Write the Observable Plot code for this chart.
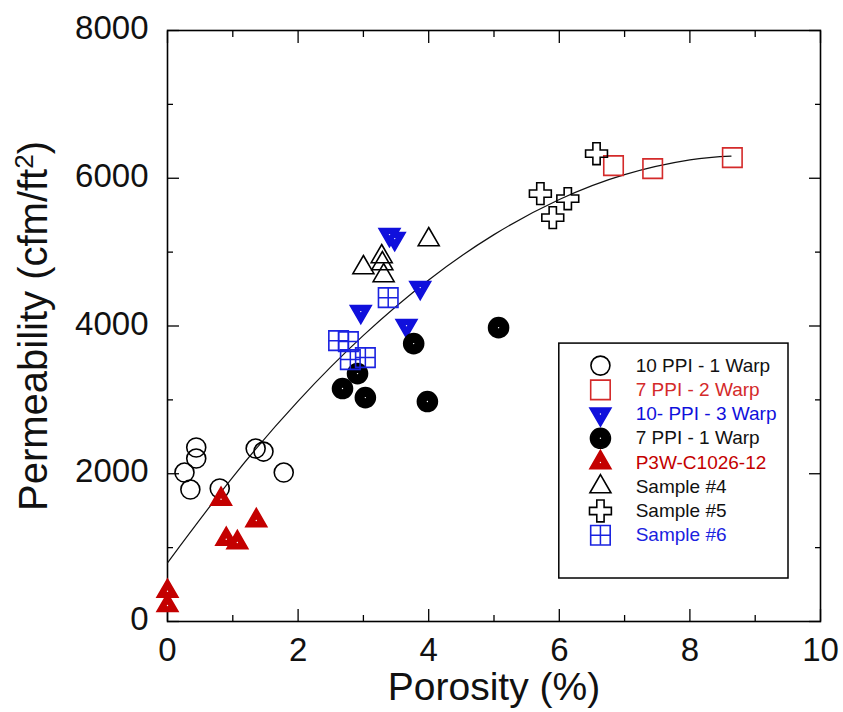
<!DOCTYPE html>
<html>
<head>
<meta charset="utf-8">
<script src="https://cdn.jsdelivr.net/npm/d3@7"></script>
<script src="https://cdn.jsdelivr.net/npm/@observablehq/plot@0.6"></script>
<style>
  html, body { margin: 0; padding: 0; background: #fff; }
  #chart { width: 843px; height: 712px; }
</style>
</head>
<body>
<div id="chart"></div>
<script>
// ---------- Data ----------
const ppi10w1X = [0.26, 0.35, 0.44, 0.44, 0.80, 1.35, 1.47, 1.78];
const ppi10w1Y = [2016, 1786, 2355, 2206, 1800, 2341, 2300, 2016];

const ppi7w2X = [6.83, 7.43, 8.65];
const ppi7w2Y = [6171, 6130, 6279];

const ppi10w3X = [3.40, 3.48, 3.87, 2.96, 3.66];
const ppi10w3Y = [5237, 5183, 4520, 4195, 4005];

const ppi7w1X = [2.91, 2.68, 3.03, 3.98, 3.77, 5.07];
const ppi7w1Y = [3356, 3153, 3031, 2977, 3762, 3978];

const p3wX = [0.82, 0.90, 1.07, 1.36, 0.00, 0.00];
const p3wY = [1655, 1114, 1069, 1367, 410, 217];

const sample4X = [4.00, 3.28, 3.00, 3.29, 3.31];
const sample4Y = [5169, 4939, 4790, 4844, 4682];

const sample5X = [6.57, 5.71, 6.13, 5.90];
const sample5Y = [6333, 5792, 5724, 5467];

const sample6X = [2.62, 2.77, 2.80, 3.03, 3.38];
const sample6Y = [3802, 3789, 3545, 3572, 4384];

// fitted trend curve
const curveX = [0, 1, 2, 3, 4, 5, 6, 7, 8, 8.63];
const curveY = [795, 1956, 2984, 3873, 4624, 5237, 5712, 6049, 6248, 6300];

// axes
const xMajorTicks = [0, 2, 4, 6, 8, 10];
const xMinorTicks = [1, 3, 5, 7, 9];
const yMajorTicks = [0, 2000, 4000, 6000, 8000];
const yMinorTicks = [1000, 3000, 5000, 7000];
const xTickLabels = ["0", "2", "4", "6", "8", "10"];
const yTickLabels = ["0", "2000", "4000", "6000", "8000"];

const legendLabels = ["10 PPI - 1 Warp", "7 PPI - 2 Warp", "10- PPI - 3 Warp", "7 PPI - 1 Warp",
                      "P3W-C1026-12", "Sample #4", "Sample #5", "Sample #6"];

// ---------- Styles ----------
const RED = "#d42a2a", DARKRED = "#c40000", BLUE = "#1010dc", BLUE2 = "#1a22e0";
const triDown = {
  draw(ctx, size) {
    const y = Math.sqrt(size / (3 * Math.sqrt(3)));
    ctx.moveTo(0, 2 * y);
    ctx.lineTo(-Math.sqrt(3) * y, -y);
    ctx.lineTo(Math.sqrt(3) * y, -y);
    ctx.closePath();
  }
};

const seriesSpecs = [
  {x: ppi10w1X, y: ppi10w1Y, symbol: "circle",   r: 9.5, stroke: "#000", fill: "none"},
  {x: ppi7w2X,  y: ppi7w2Y,  symbol: "square",   r: 11,  stroke: RED,    fill: "none"},
  {x: ppi10w3X, y: ppi10w3Y, symbol: triDown,    r: 7.8, stroke: BLUE,   fill: BLUE, pip: true},
  {x: ppi7w1X,  y: ppi7w1Y,  symbol: "circle",   r: 10,  stroke: "#000", fill: "#000", pip: true},
  {x: p3wX,     y: p3wY,     symbol: "triangle", r: 7.8, stroke: DARKRED, fill: DARKRED, pip: true},
  {x: sample4X, y: sample4Y, symbol: "triangle", r: 7.8, stroke: "#000", fill: "none"},
  {x: sample5X, y: sample5Y, symbol: "cross",    r: 9.2, stroke: "#000", fill: "none"},
  {x: sample6X, y: sample6Y, symbol: "square",   r: 11,  stroke: BLUE2,  fill: "none", grid: true}
];
const legendTextColors = ["#111", RED, BLUE, "#111", DARKRED, "#111", "#111", BLUE2];

function markerMarks(rows, s) {
  const marks = [
    Plot.dot(rows, {x: "x", y: "y", symbol: s.symbol, r: s.r, stroke: s.stroke, fill: s.fill, strokeWidth: 1.6})
  ];
  if (s.grid) marks.push(Plot.dot(rows, {x: "x", y: "y", symbol: "plus", r: 6.2, stroke: s.stroke, strokeWidth: 1.5}));
  if (s.pip) marks.push(Plot.dot(rows, {x: "x", y: "y", r: 0.7, fill: "#fff", stroke: null}));
  return marks;
}

// data marks
const dataMarks = seriesSpecs.flatMap(s =>
  markerMarks(s.x.map((v, i) => ({x: v, y: s.y[i]})), s));

const curveRows = curveX.map((v, i) => ({x: v, y: curveY[i]}));

// legend layout (in data units of the plot)
const legBox = {x1: 6.00, x2: 9.51, y1: 582, y2: 3762};
const legSymX = 6.63, legTextX = 7.17, legTopY = 3464, legStep = 328;
const legendMarks = seriesSpecs.flatMap((s, i) =>
  markerMarks([{x: legSymX, y: legTopY - i * legStep}], s));
const legendTextRows = legendLabels.map((t, i) => ({x: legTextX, y: legTopY - i * legStep, t, c: legendTextColors[i]}));

const chart = Plot.plot({
  width: 843,
  height: 712,
  marginLeft: 167,
  marginRight: 23,
  marginTop: 30,
  marginBottom: 91,
  x: {domain: [0, 10], axis: null},
  y: {domain: [0, 8000], axis: null},
  style: {fontFamily: "'Liberation Sans', Arial, sans-serif", background: "#fff", color: "#000"},
  marks: [
    // ticks on all four sides, pointing inward
    Plot.axisX({anchor: "bottom", ticks: xMajorTicks, tickSize: -12, tickFormat: () => "", strokeWidth: 1.3}),
    Plot.axisX({anchor: "bottom", ticks: xMinorTicks, tickSize: -6, tickFormat: () => "", strokeWidth: 1.3}),
    Plot.axisX({anchor: "top", ticks: xMajorTicks, tickSize: -12, tickFormat: () => "", strokeWidth: 1.3}),
    Plot.axisX({anchor: "top", ticks: xMinorTicks, tickSize: -6, tickFormat: () => "", strokeWidth: 1.3}),
    Plot.axisY({anchor: "left", ticks: yMajorTicks, tickSize: -12, tickFormat: () => "", strokeWidth: 1.3}),
    Plot.axisY({anchor: "left", ticks: yMinorTicks, tickSize: -6, tickFormat: () => "", strokeWidth: 1.3}),
    Plot.axisY({anchor: "right", ticks: yMajorTicks, tickSize: -12, tickFormat: () => "", strokeWidth: 1.3}),
    Plot.axisY({anchor: "right", ticks: yMinorTicks, tickSize: -6, tickFormat: () => "", strokeWidth: 1.3}),
    Plot.frame({stroke: "#000", strokeWidth: 1.6}),
    // tick labels
    Plot.text(xMajorTicks, {x: d => d, text: (d, i) => xTickLabels[i], frameAnchor: "bottom", dy: 29, fontSize: 33, lineAnchor: "middle", fill: "#111"}),
    Plot.text(yMajorTicks, {y: d => d, text: (d, i) => yTickLabels[i], frameAnchor: "left", dx: -19, dy: -2, textAnchor: "end", fontSize: 33, lineAnchor: "middle", fill: "#111"}),
    // axis titles
    Plot.text(["Porosity (%)"], {text: d => d, frameAnchor: "bottom", dy: 66, fontSize: 39, lineAnchor: "middle", textAnchor: "middle", fill: "#111"}),
    Plot.text(["Permeability (cfm/ft2)"], {text: d => d, frameAnchor: "left", dx: -133, rotate: -90, fontSize: 40, lineAnchor: "middle", textAnchor: "middle", fill: "#111", className: "ylab"}),
    // trend curve
    Plot.line(curveRows, {x: "x", y: "y", curve: "natural", stroke: "#111", strokeWidth: 1.2}),
    // data
    ...dataMarks,
    // legend
    Plot.rect([legBox], {x1: "x1", x2: "x2", y1: "y1", y2: "y2", fill: "#fff", stroke: "#000", strokeWidth: 1.5}),
    ...legendMarks,
    Plot.text(legendTextRows, {x: "x", y: "y", text: "t", fill: d => d.c, fontSize: 19, textAnchor: "start", lineAnchor: "middle"})
  ]
});

// superscript "2" in the y-axis title
const ylab = chart.querySelector(".ylab text");
if (ylab) {
  ylab.textContent = "";
  const NS = "http://www.w3.org/2000/svg";
  const a = document.createElementNS(NS, "tspan"); a.textContent = "Permeability (cfm/ft";
  const s = document.createElementNS(NS, "tspan"); s.textContent = "2";
  s.setAttribute("font-size", "26"); s.setAttribute("dy", "-14");
  const b = document.createElementNS(NS, "tspan"); b.textContent = ")"; b.setAttribute("dy", "14");
  ylab.append(a, s, b);
}
document.getElementById("chart").appendChild(chart);
</script>
</body>
</html>
